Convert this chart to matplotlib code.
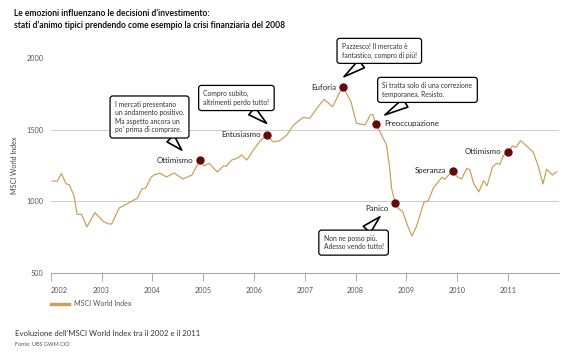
import numpy as np
import matplotlib.pyplot as plt
import matplotlib.transforms as mtransforms
from matplotlib.lines import Line2D

plt.rcParams['font.family'] = ['Lato', 'DejaVu Sans']

# MSCI World Index
years = [2002.03, 2002.13, 2002.21, 2002.30, 2002.37, 2002.46, 2002.52, 2002.61, 2002.71, 2002.87,
         2003.04, 2003.13, 2003.20, 2003.35, 2003.48, 2003.61, 2003.71, 2003.79, 2003.87, 2003.98,
         2004.05, 2004.15, 2004.28, 2004.43, 2004.60, 2004.78, 2004.94, 2005.02, 2005.12, 2005.28,
         2005.40, 2005.46, 2005.56, 2005.67, 2005.76, 2005.86, 2005.99, 2006.12, 2006.26, 2006.37,
         2006.50, 2006.65, 2006.78, 2006.97, 2007.10, 2007.24, 2007.38, 2007.55, 2007.69, 2007.76,
         2007.91, 2008.02, 2008.19, 2008.29, 2008.34, 2008.40, 2008.48, 2008.61, 2008.67, 2008.71,
         2008.78, 2008.84, 2008.93, 2009.02, 2009.11, 2009.20, 2009.35, 2009.43, 2009.53, 2009.70,
         2009.76, 2009.91, 2010.00, 2010.09, 2010.19, 2010.25, 2010.33, 2010.43, 2010.52, 2010.59,
         2010.70, 2010.78, 2010.84, 2010.92, 2011.01, 2011.09, 2011.16, 2011.25, 2011.37, 2011.50,
         2011.60, 2011.69, 2011.76, 2011.88, 2011.96]
values = [1142, 1140, 1194, 1124, 1114, 1037, 910, 908, 821, 921,
          859, 843, 842, 954, 978, 1004, 1023, 1086, 1093, 1170,
          1187, 1196, 1170, 1198, 1156, 1184, 1288, 1247, 1265, 1205,
          1247, 1245, 1288, 1300, 1323, 1288, 1358, 1421, 1465, 1416,
          1421, 1463, 1533, 1586, 1579, 1649, 1712, 1660, 1761, 1796,
          1695, 1544, 1533, 1602, 1607, 1540, 1486, 1393, 1242, 1091,
          990, 951, 928, 835, 758, 824, 997, 1002, 1091, 1168,
          1154, 1212, 1172, 1156, 1230, 1219, 1121, 1067, 1144, 1109,
          1242, 1265, 1258, 1323, 1346, 1386, 1377, 1423, 1386, 1342,
          1242, 1121, 1224, 1184, 1207]

event_names = ['Ottimismo', 'Entusiasmo', 'Euforia', 'Preoccupazione', 'Panico', 'Speranza', 'Ottimismo']
event_dates = [2004.94, 2006.26, 2007.76, 2008.40, 2008.78, 2009.91, 2011.01]

callout_texts = ['I mercati presentano\nun andamento positivo.\nMa aspetto ancora un\npo’ prima di comprare.',
                 'Compro subito,\naltrimenti perdo tutto!',
                 'Pazzesco! Il mercato è\nfantastico, compro di più!',
                 'Si tratta solo di una correzione\ntemporanea. Resisto.',
                 'Non ne posso più.\nAdesso vendo tutto!']

tick_years = list(range(2002, 2012))
y_ticks = [500, 1000, 1500, 2000]

line_color = '#C9A25E'
dot_color = '#650A0A'

fig = plt.figure(figsize=(5.8, 3.58), dpi=100)
ax = fig.add_axes([50.7 / 580, 1 - 273 / 358, 508 / 580, 215 / 358])
ax.set_xlim(2002, 2012)
ax.set_ylim(500, 2000)

for s in ['top', 'right', 'left']:
    ax.spines[s].set_visible(False)
ax.spines['bottom'].set_color('#aaaaaa')
ax.spines['bottom'].set_linewidth(0.8)

for v in y_ticks[1:3]:
    ax.axhline(v, color='#cccccc', lw=0.7, zorder=0)

ax.set_yticks(y_ticks)
ax.tick_params(axis='y', length=0, pad=5, labelsize=5.2, labelcolor='#555555')
ax.set_xticks(tick_years)
ax.tick_params(axis='x', length=6, width=0.7, color='#aaaaaa', pad=4, labelsize=5.2, labelcolor='#555555')
ax.get_xticklabels()[0].set_ha('left')

ax.set_ylabel('MSCI World Index', fontsize=5.1, color='#444444')
ax.yaxis.set_label_coords((18 - 50.7) / 508, 0.5)

ax.plot(years, values, color=line_color, lw=0.9, zorder=2)

ev_vals = np.interp(event_dates, years, values)
ax.plot(event_dates, ev_vals, 'o', color=dot_color, ms=5, zorder=4)

# label offsets in points: (dx, dy, ha)
label_pos = [(-4.8, 0, 'right'), (-4.8, 0, 'right'), (-4.8, 0, 'right'), (6, 0, 'left'),
             (-4.5, -4, 'right'), (-4.5, 0, 'right'), (-4.8, 0, 'right')]
for name, x, y, (dx, dy, ha) in zip(event_names, event_dates, ev_vals, label_pos):
    ax.annotate(name, xy=(x, y), xytext=(dx, dy), textcoords='offset points',
                ha=ha, va='center', fontsize=5.7, color='#222222', zorder=5)

# callouts: tip offset from dot and box offset from tip, both in points
callout_pos = [(0, -13.2, 7.2, -23.2, 23.8),
               (1, -0.4, 8.2, -21.7, 18.2),
               (2, 0.5, 7.6, 25.4, 18.6),
               (3, 6.5, 6.5, 30.7, 18.0),
               (4, -11.0, -10.1, -18.9, -18.6)]
for txt, (i, tx, ty, bx, by) in zip(callout_texts, callout_pos):
    tr = mtransforms.offset_copy(ax.transData, fig=fig, x=tx, y=ty, units='points')
    ax.annotate(txt, xy=(event_dates[i], ev_vals[i]), xycoords=tr,
                xytext=(bx, by), textcoords='offset points',
                ha='center', va='center', multialignment='left',
                fontsize=4.9, color='#333333', linespacing=1.25, zorder=6,
                annotation_clip=False,
                bbox=dict(boxstyle='round,pad=0.7,rounding_size=0.4', fc='white', ec='black', lw=0.9),
                arrowprops=dict(arrowstyle='wedge,tail_width=0.7,shrink_factor=0.5', mutation_scale=10,
                                fc='white', ec='black', lw=1.2, shrinkA=0, shrinkB=0))

fig.text(14 / 580, 1 - 9 / 358,
         'Le emozioni influenzano le decisioni d’investimento:\n'
         'stati d’animo tipici prendendo come esempio la crisi finanziaria del 2008',
         fontsize=6.15, fontweight='bold', va='top', ha='left', linespacing=1.3, color='#111111')

leg = ax.legend([Line2D([], [], color=line_color, lw=2.5)], ['MSCI World Index'],
                loc='center left', bbox_to_anchor=(51 / 580, 1 - 304 / 358),
                bbox_transform=fig.transFigure, frameon=False, fontsize=5.1,
                handlelength=2.6, handletextpad=0.6, borderpad=0, borderaxespad=0)
for t in leg.get_texts():
    t.set_color('#555555')

fig.text(15 / 580, 1 - 333 / 358, 'Evoluzione dell’MSCI World Index tra il 2002 e il 2011',
         fontsize=5.55, va='center', ha='left', color='#333333')
fig.text(15 / 580, 1 - 345 / 358, 'Fonte: UBS GWM CIO',
         fontsize=4.0, va='center', ha='left', color='#555555')

fig.savefig('out.png', dpi=100)
